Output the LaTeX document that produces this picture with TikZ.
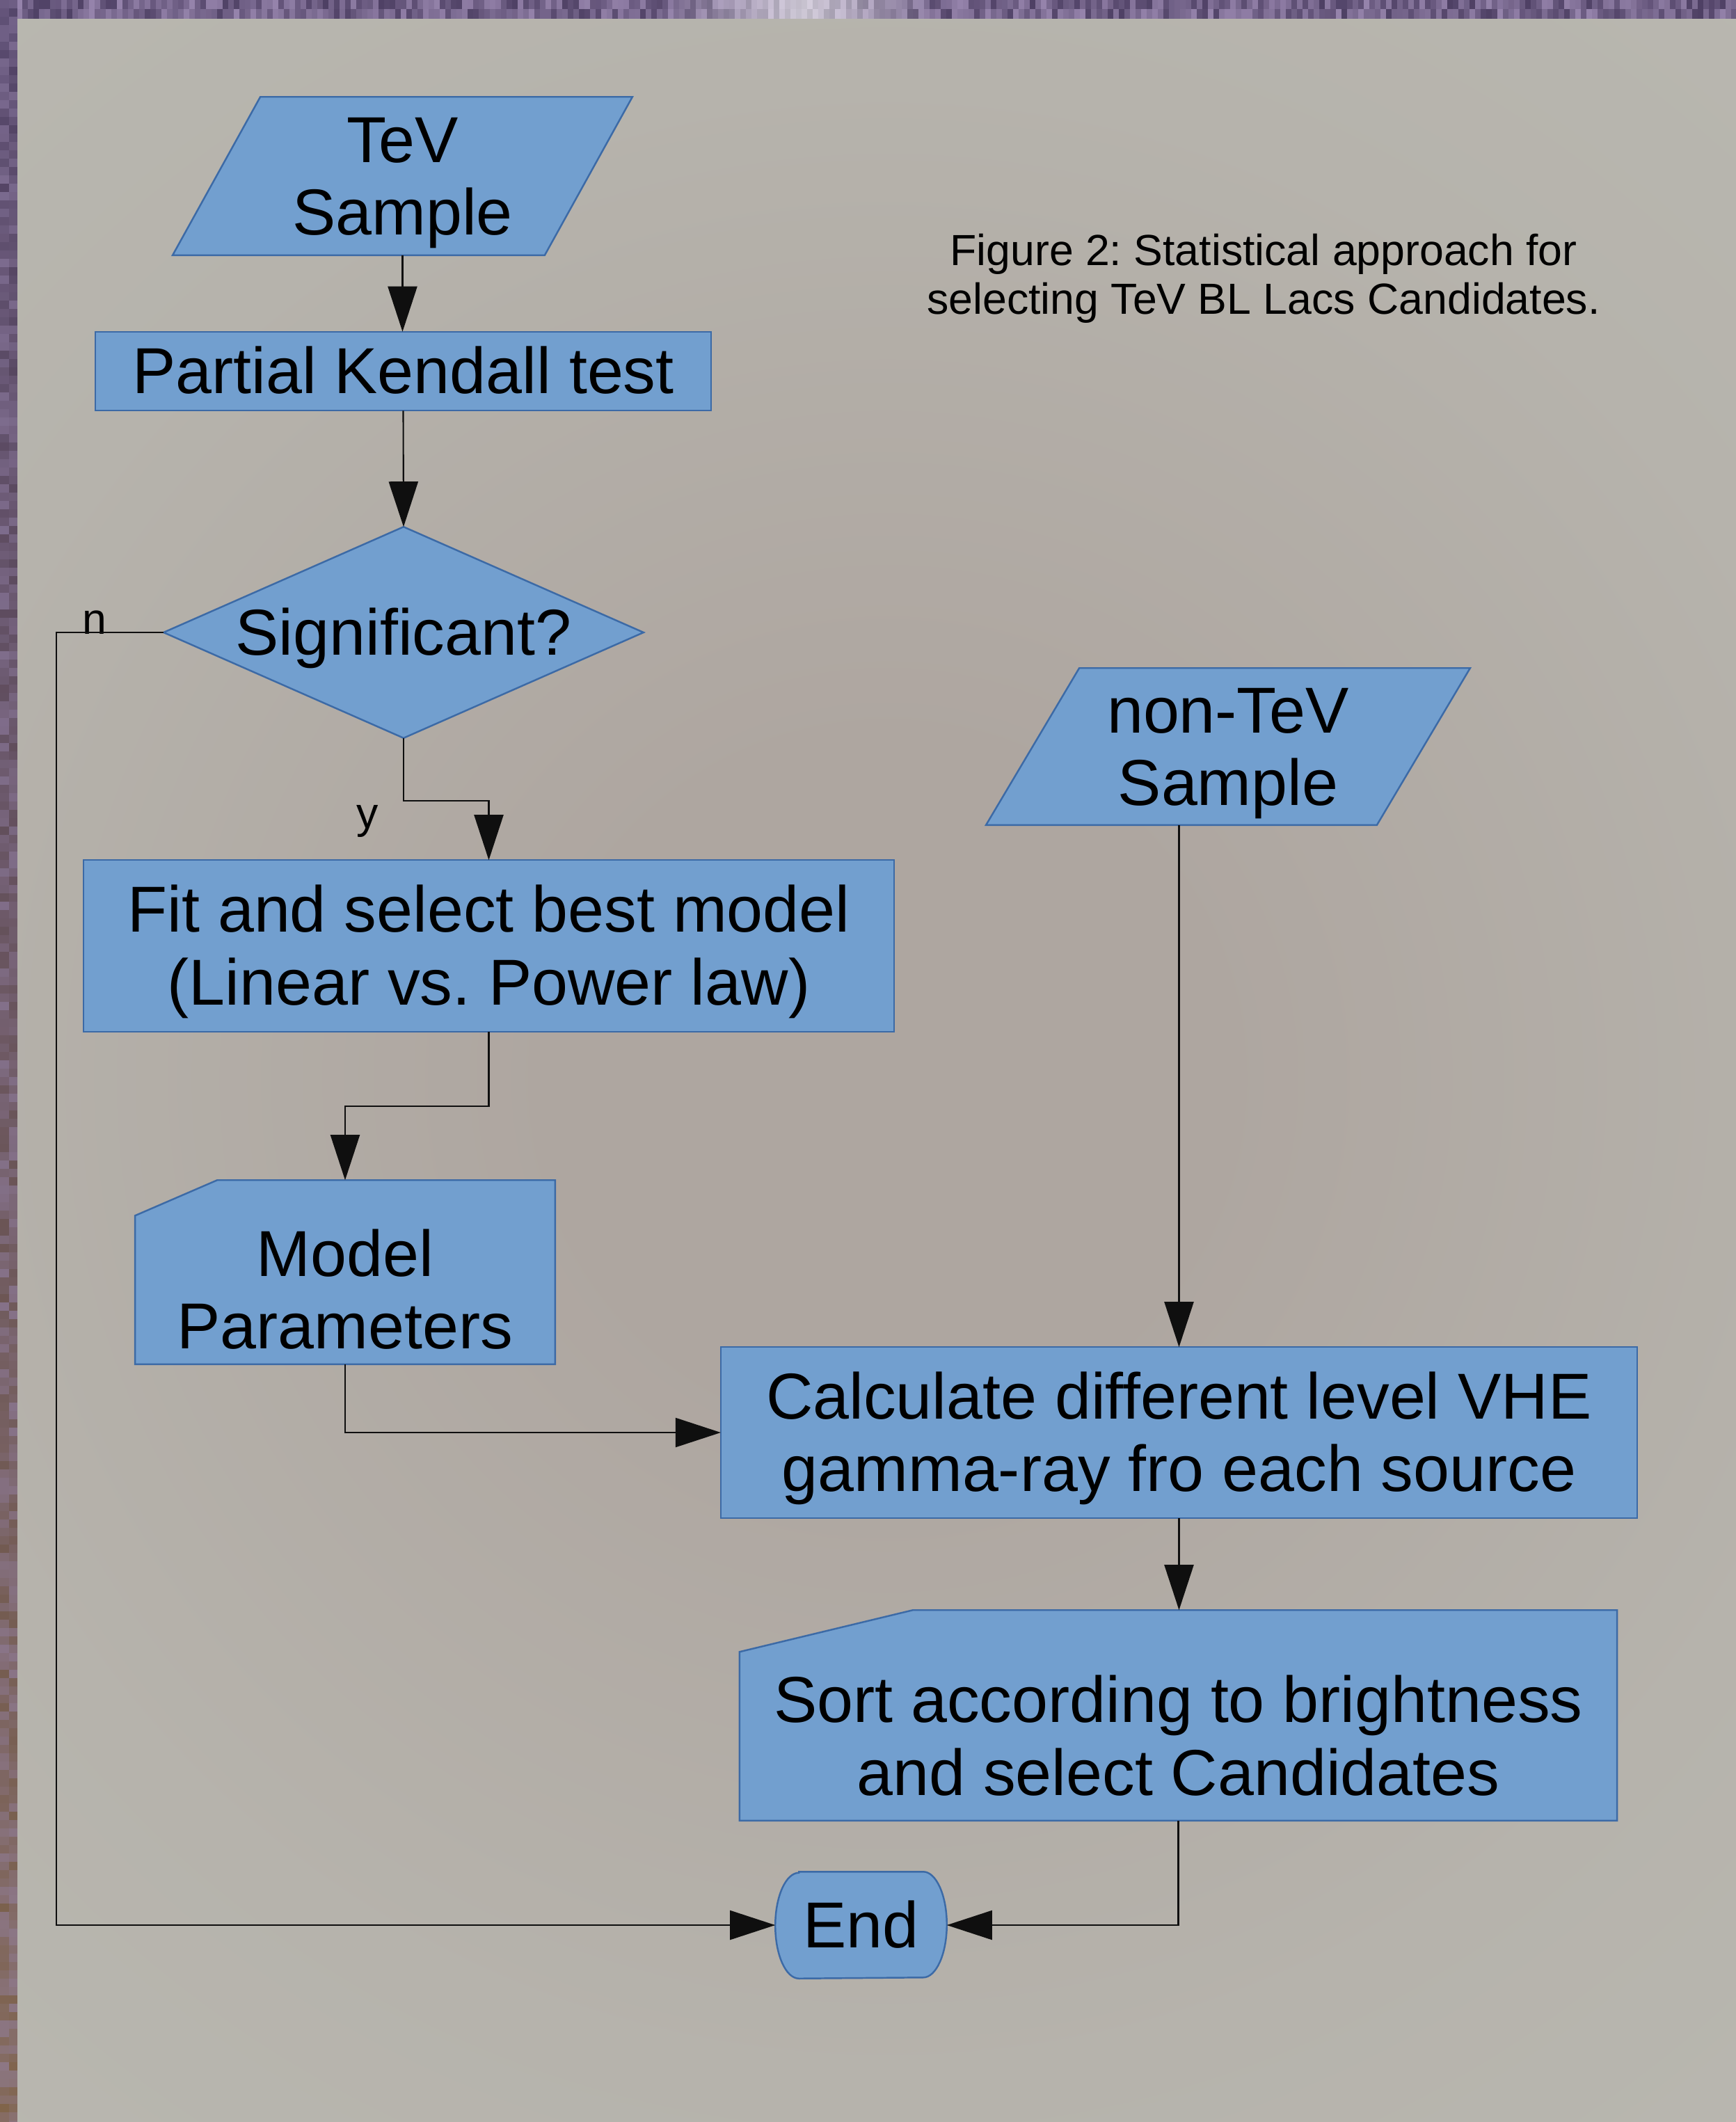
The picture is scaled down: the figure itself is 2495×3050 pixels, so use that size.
\documentclass[tikz,border=0pt]{standalone}
\usepackage{fontspec}
\setmainfont{Liberation Sans}
\usetikzlibrary{arrows.meta,calc}
\frenchspacing

\definecolor{boxblue}{RGB}{114,159,207}
\definecolor{boxline}{RGB}{60,106,166}
\definecolor{pedge}{RGB}{187,188,180}
\definecolor{pmid}{RGB}{182,179,172}
\definecolor{pcenter}{RGB}{174,166,160}
\definecolor{purpdark}{RGB}{78,64,100}
\definecolor{purplight}{RGB}{150,132,172}
\definecolor{earthbrown}{RGB}{128,100,72}
\definecolor{linegrey}{RGB}{15,15,15}

\pgfdeclarelayer{back}
\pgfdeclarelayer{shapes}
\pgfsetlayers{back,shapes,main}
\pgfdeclareradialshading{panelglow}{\pgfpoint{0bp}{0bp}}%
  {color(0bp)=(pcenter); color(6bp)=(pcenter); color(18bp)=(pmid); color(34bp)=(pedge); color(50bp)=(pedge)}

% line box with the ascent/descent of the font, so blocks centre like the drawing program does
\newcommand{\lstrut}{\rule[-0.212em]{0pt}{1.117em}}

\tikzset{
  big/.style={font=\fontsize{26.55pt}{29.66pt}\selectfont},
  small/.style={font=\fontsize{17.8pt}{19.9pt}\selectfont},
  box/.style={big, inner sep=0pt, align=center, text=black},
  shapefill/.style={fill=boxblue, draw=boxline, line width=0.7pt, line join=miter},
  flow/.style={draw=linegrey, line width=0.6pt, -{Triangle[length=0.65cm,width=0.42cm]}},
}

\begin{document}
\begin{tikzpicture}[x=0.01cm, y=-0.01cm]
\useasboundingbox (0,0) rectangle (2495,3050);

% ---------- backdrop: textured frame and the grey panel ----------
\begin{pgfonlayer}{back}
  \fill[purpdark] (0,0) rectangle (2495,3050);
  \pgfmathsetseed{1234}
  \foreach \i in {0,...,311}{
    \pgfmathsetmacro{\ma}{int(100*rnd)}
    \pgfmathsetmacro{\mb}{int(100*rnd)}
    \pgfmathsetmacro{\kw}{int(100-max(0,65-abs(\i*8-1150)/3))}
    \fill[purplight!\ma!purpdark!\kw!white] (\i*8,0) rectangle ++(8,13);
    \fill[purplight!\mb!purpdark!\kw!white] (\i*8,13) rectangle ++(8,14);
  }
  \foreach \j in {0,...,254}{
    \pgfmathsetmacro{\tb}{int(\j/254*100)}
    \pgfmathsetmacro{\ka}{int(100-60*rnd)}
    \pgfmathsetmacro{\kb}{int(100-60*rnd)}
    \fill[earthbrown!\tb!purpdark!\ka!purplight] (0,\j*12) rectangle ++(13,12);
    \fill[earthbrown!\tb!purpdark!\kb!purplight] (13,\j*12) rectangle ++(12,12);
  }
  \begin{scope}
    \clip (25,27) rectangle (2495,3050);
    \fill[pedge] (25,27) rectangle (2495,3050);
    \shade[shading=panelglow] (1275,1550) circle (2000);
  \end{scope}
\end{pgfonlayer}

% ---------- nodes ----------
\node[box, minimum width=6.59cm, minimum height=2.26cm] (tev) at (578.5,253) {\lstrut TeV\\\lstrut Sample};
\node[box, minimum width=8.83cm, minimum height=1.12cm] (kendall) at (579.5,533.5) {\lstrut Partial Kendall test};
\node[box, minimum width=6.88cm, minimum height=3.02cm] (sig) at (580,909) {\lstrut Significant?};
\node[box, minimum width=11.63cm, minimum height=2.45cm] (fit) at (702.5,1359.5)
  {\lstrut Fit and select best model\\\lstrut (Linear vs. Power law)};
\node[box, minimum width=6.02cm, minimum height=2.63cm,
  label={[big, align=center, inner sep=0pt, yshift=-0.255cm]center:\lstrut Model\\\lstrut Parameters}]
  (mp) at (496,1828.5) {};
\node[box, minimum width=6.94cm, minimum height=2.24cm] (ntev) at (1765,1073) {\lstrut non-TeV\\\lstrut Sample};
\node[box, minimum width=13.15cm, minimum height=2.44cm] (calc) at (1694.5,2059)
  {\lstrut Calculate different level VHE\\\lstrut gamma-ray fro each source};
\node[box, minimum width=12.59cm, minimum height=3.01cm,
  label={[big, align=center, inner sep=0pt, yshift=-0.30cm]center:\lstrut Sort according to brightness\\\lstrut and select Candidates}]
  (sort) at (1693.5,2465.5) {};
\node[box, minimum width=2.45cm, minimum height=1.52cm] (end) at (1237.5,2767) {\lstrut End};

\node[small, align=center, inner sep=0pt] (caption) at (1816,395)
  {\lstrut Figure 2: Statistical approach for\\\lstrut selecting TeV BL Lacs Candidates.};
\node[small, anchor=base, inner sep=0pt] (nlab) at (136,911) {n};
\node[small, anchor=base, inner sep=0pt] (ylab) at (528,1190) {y};

% ---------- outlines of the flowchart symbols ----------
\begin{pgfonlayer}{shapes}
  \filldraw[shapefill] ($(tev.north west)+(126,0)$) -- (tev.north east)
    -- ($(tev.south east)+(-126,0)$) -- (tev.south west) -- cycle;
  \filldraw[shapefill] (kendall.north west) rectangle (kendall.south east);
  \filldraw[shapefill] (sig.north) -- (sig.east) -- (sig.south) -- (sig.west) -- cycle;
  \filldraw[shapefill] (fit.north west) rectangle (fit.south east);
  \filldraw[shapefill] ($(mp.north west)+(118,0)$) -- (mp.north east) -- (mp.south east)
    -- (mp.south west) -- ($(mp.north west)+(0,51)$) -- cycle;
  \filldraw[shapefill] ($(ntev.north west)+(134,0)$) -- (ntev.north east)
    -- ($(ntev.south east)+(-134,0)$) -- (ntev.south west) -- cycle;
  \filldraw[shapefill] (calc.north west) rectangle (calc.south east);
  \filldraw[shapefill] ($(sort.north west)+(249,0)$) -- (sort.north east) -- (sort.south east)
    -- (sort.south west) -- ($(sort.north west)+(0,60)$) -- cycle;
  \filldraw[shapefill] ($(end.north west)+(34,0)$) -- ($(end.north east)+(-34,0)$)
    arc[start angle=-90, end angle=90, x radius=34, y radius=76]
    -- ($(end.south west)+(34,0)$)
    arc[start angle=90, end angle=270, x radius=34, y radius=76] -- cycle;
\end{pgfonlayer}

% ---------- connectors ----------
\draw[flow] (tev.south) -- (tev.south |- kendall.north);
\draw[flow] (kendall.south) -- (sig.north);
\draw[flow] (sig.south) -- ++(0,90) -| (fit.north);
\draw[flow] (sig.west) -- ++(-154,0) |- (end.west);
\draw[flow] (fit.south) -- ++(0,107) -| (mp.north);
\draw[flow] (mp.south) |- (calc.west);
\draw[flow] (ntev.south -| calc.north) -- (calc.north);
\draw[flow] (calc.south) -- (calc.south |- sort.north);
\draw[flow] (sort.south) |- (end.east);
\end{tikzpicture}
\end{document}
